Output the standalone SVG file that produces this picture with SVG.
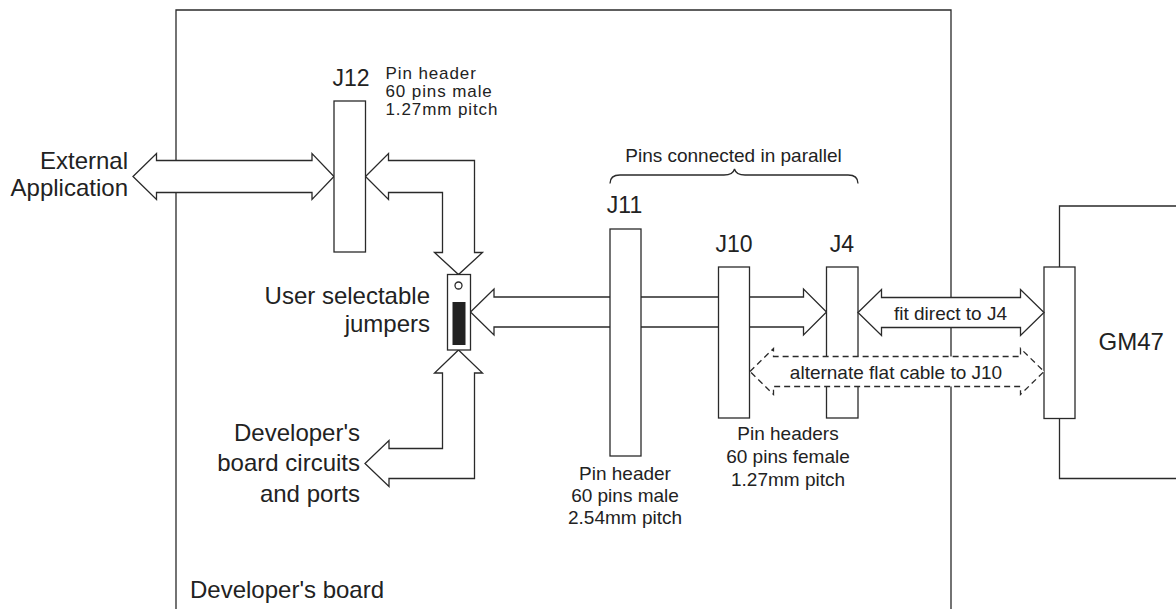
<svg xmlns="http://www.w3.org/2000/svg" width="1176" height="609" viewBox="0 0 1176 609">
<style>
  .ln { fill: none; stroke: #2a2a2a; stroke-width: 1.3; }
  .box { fill: #ffffff; stroke: #2a2a2a; stroke-width: 1.3; }
  .arr { fill: #ffffff; stroke: #2a2a2a; stroke-width: 1.3; stroke-linejoin: miter; }
  .dash { fill: #ffffff; stroke: #2a2a2a; stroke-width: 1.3; stroke-dasharray: 6 4; }
  text { font-family: "Liberation Sans", Arial, sans-serif; fill: #222222; }
  .big { font-size: 24px; }
  .lbl { font-size: 23px; }
  .sm { font-size: 19px; }
  .tight { font-size: 17px; letter-spacing: 0.9px; }
</style>
<rect width="1176" height="609" fill="#ffffff"/>

<g id="developers-board">
  <path class="ln" d="M176,609 V10 H951 V609"/>
  <text class="big" x="190" y="598">Developer's board</text>
</g>

<g id="gm47">
  <path class="ln" d="M1176,206 H1059.5 V478.5 H1176"/>
  <text class="big" x="1098.5" y="349.5">GM47</text>
</g>

<g id="connectors">
  <!-- External application <-> J12 -->
  <polygon class="arr" points="133,176.5 156.5,153.5 156.5,160.5 312,160.5 312,153.5 334,176.5 312,199.5 312,192.5 156.5,192.5 156.5,199.5"/>
  <!-- J12 <-> jumpers -->
  <polygon class="arr" points="365.5,176.5 388.5,153.5 388.5,160.5 474.5,160.5 474.5,252.5 482.5,252.5 458.5,274.5 434.5,252.5 442.5,252.5 442.5,192.5 388.5,192.5 388.5,199.5"/>
  <!-- jumpers <-> developer's board circuits -->
  <polygon class="arr" points="458.5,350 482.5,373 474.5,373 474.5,478.5 389,478.5 389,486.5 365,463.5 389,440.5 389,448.5 442.5,448.5 442.5,373 434.5,373"/>
  <!-- jumpers <-> J4 -->
  <polygon class="arr" points="470.5,312 494,289 494,297 803.5,297 803.5,289 826.5,312 803.5,335 803.5,327 494,327 494,335"/>
</g>

<g id="j12">
  <rect class="box" x="334" y="101" width="31.5" height="151"/>
  <text class="lbl" x="351" y="85.5" text-anchor="middle">J12</text>
  <text class="tight" x="385.5" y="79">Pin header</text>
  <text class="tight" x="385.5" y="97">60 pins male</text>
  <text class="tight" x="385.5" y="115">1.27mm pitch</text>
</g>

<g id="external-application">
  <text class="big" x="128" y="168.5" text-anchor="end">External</text>
  <text class="big" x="128" y="196" text-anchor="end">Application</text>
</g>

<g id="jumpers">
  <rect class="box" x="447.5" y="274.5" width="23" height="75.5"/>
  <circle class="box" cx="458.5" cy="285.5" r="3.5"/>
  <rect x="452.5" y="302" width="13" height="43" fill="#222222"/>
  <text class="big" x="430" y="304" text-anchor="end">User selectable</text>
  <text class="big" x="430" y="331.5" text-anchor="end">jumpers</text>
</g>

<g id="developers-circuits">
  <text class="big" x="360" y="440.5" text-anchor="end">Developer's</text>
  <text class="big" x="360" y="471" text-anchor="end">board circuits</text>
  <text class="big" x="360" y="501.5" text-anchor="end">and ports</text>
</g>

<g id="j11">
  <rect class="box" x="610" y="229" width="31" height="227"/>
  <text class="lbl" x="624.5" y="213" text-anchor="middle">J11</text>
  <text class="sm" x="625" y="479.5" text-anchor="middle">Pin header</text>
  <text class="sm" x="625" y="501.5" text-anchor="middle">60 pins male</text>
  <text class="sm" x="625" y="523.5" text-anchor="middle">2.54mm pitch</text>
</g>

<g id="j10">
  <rect class="box" x="718.5" y="267" width="31" height="151"/>
  <text class="lbl" x="734" y="251.5" text-anchor="middle">J10</text>
</g>

<g id="j4">
  <rect class="box" x="826.5" y="267" width="31.5" height="151"/>
  <text class="lbl" x="842" y="251.5" text-anchor="middle">J4</text>
  <text class="sm" x="788" y="440" text-anchor="middle">Pin headers</text>
  <text class="sm" x="788" y="463" text-anchor="middle">60 pins female</text>
  <text class="sm" x="788" y="486" text-anchor="middle">1.27mm pitch</text>
</g>

<g id="parallel-brace">
  <path class="ln" d="M610,183.5 Q610,175 620,175 H724 Q733,175 734.5,169 Q736,175 745,175 H848 Q858,175 858,183.5"/>
  <text class="sm" x="733.5" y="161.5" text-anchor="middle">Pins connected in parallel</text>
</g>

<g id="gm47-connector">
  <rect class="box" x="1044" y="267" width="31" height="151.5"/>
</g>

<g id="cable-connectors">
  <polygon class="arr" points="858,312.5 881.5,289.5 881.5,297.5 1020.5,297.5 1020.5,289.5 1044,312.5 1020.5,335.5 1020.5,327.5 881.5,327.5 881.5,335.5"/>
  <text class="sm" x="950.5" y="320" text-anchor="middle">fit direct to J4</text>
  <polygon class="dash" points="750,371.5 773.5,348.5 773.5,356.5 1020.5,356.5 1020.5,348.5 1044,371.5 1020.5,394.5 1020.5,386.5 773.5,386.5 773.5,394.5"/>
  <text class="sm" x="896" y="378.5" text-anchor="middle">alternate flat cable to J10</text>
</g>
</svg>
